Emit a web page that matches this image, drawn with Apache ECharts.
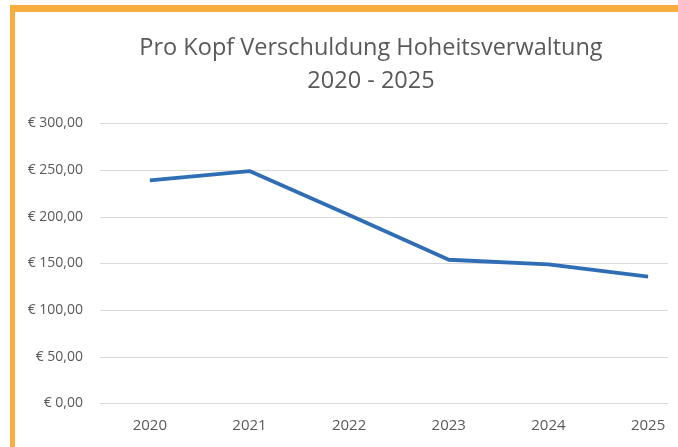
<!DOCTYPE html>
<html><head><meta charset="utf-8">
<script src="https://cdn.jsdelivr.net/npm/echarts@6/dist/echarts.min.js"></script>
<style>html,body{margin:0;padding:0;background:#fff;}#c{width:678px;height:447px;}</style>
</head><body><div id="c"></div>
<script>
const categories = [2020, 2021, 2022, 2023, 2024, 2025];
const values = [239, 249, 202, 154, 149, 136];
const titleLines = ['Pro Kopf Verschuldung Hoheitsverwaltung', '2020 - 2025'];

const chart = echarts.init(document.getElementById('c'));
chart.setOption({
  backgroundColor: '#fff',
  animation: false,
  title: {
    text: titleLines.join('\n'),
    left: 366, top: 27, textAlign: 'center',
    textStyle: {fontFamily: 'Open Sans', fontSize: 23.5, fontWeight: 'normal', color: '#595959', lineHeight: 33}
  },
  graphic: [
    {type: 'rect', shape: {x: 10, y: 5, width: 668, height: 7}, style: {fill: '#F8AD3E'}, z: 10},
    {type: 'rect', shape: {x: 10, y: 5, width: 5, height: 442}, style: {fill: '#F8AD3E'}, z: 10}
  ],
  grid: {left: 100, right: 10, top: 123.5, bottom: 43.5, containLabel: false},
  xAxis: {
    type: 'value', min: 2019.5, max: 2025.2,
    axisLine: {show: true, onZero: false, lineStyle: {color: '#d9d9d9'}},
    axisTick: {show: false},
    splitLine: {show: false},
    axisLabel: {color: '#595959', fontFamily: 'Open Sans', fontSize: 15, margin: 15,
      customValues: categories, formatter: v => String(v)}
  },
  yAxis: {
    type: 'value', min: 0, max: 300, interval: 50,
    axisLine: {show: false}, axisTick: {show: false},
    splitLine: {lineStyle: {color: '#d9d9d9', width: 1}},
    axisLabel: {color: '#595959', fontFamily: 'Open Sans', fontSize: 14, margin: 17,
      formatter: v => '€ ' + v.toFixed(2).replace('.', ',')}
  },
  series: [{
    type: 'line', data: categories.map((c, i) => [c, values[i]]), symbol: 'none',
    lineStyle: {color: '#2F6DB5', width: 3.8}
  }]
});
</script></body></html>
